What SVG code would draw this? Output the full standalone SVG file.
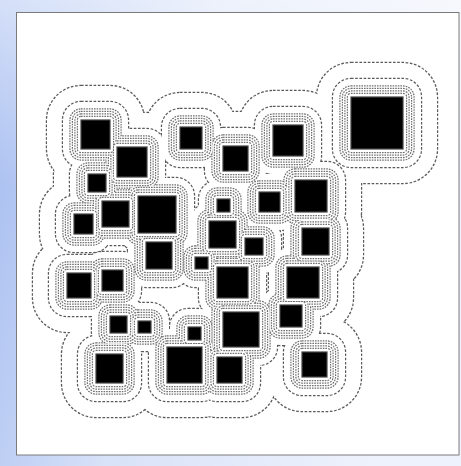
<svg xmlns="http://www.w3.org/2000/svg" xmlns:xlink="http://www.w3.org/1999/xlink" width="461" height="466" viewBox="0 0 461 466">
<style>
.bgp { fill: #ffffff; stroke: #7a7a7a; stroke-width: 1; }
.lo { fill: none; stroke: #5a5a5a; stroke-width: 2.4; stroke-dasharray: 2.6 1.6; }
.ld { fill: none; stroke: #707070; stroke-width: 2.4; stroke-dasharray: 1.6 1; }
.cv { fill: #ffffff; stroke: none; }
.sq { fill: #000000; stroke: #444444; stroke-width: 1.2; }
</style>
<defs>
<linearGradient id="bgL" x1="0" y1="0" x2="1" y2="0.25">
<stop offset="0" stop-color="#a2baf0"/>
<stop offset="0.45" stop-color="#d8e2f8"/>
<stop offset="1" stop-color="#eef2fc"/>
</linearGradient>
<linearGradient id="bgV" x1="0" y1="0" x2="0" y2="1">
<stop offset="0" stop-color="#ffffff" stop-opacity="0.55"/>
<stop offset="0.4" stop-color="#ffffff" stop-opacity="0"/>
</linearGradient>
<g id="L34">
<rect x="47" y="86" width="97" height="97" rx="34"/>
<rect x="83" y="113" width="98" height="98" rx="34"/>
<rect x="54" y="140" width="86" height="86" rx="34"/>
<rect x="68" y="167" width="95" height="94" rx="34"/>
<rect x="40" y="180" width="87" height="88" rx="34"/>
<rect x="104" y="162" width="106" height="105" rx="34"/>
<rect x="112" y="208" width="94" height="95" rx="34"/>
<rect x="33" y="239" width="92" height="93" rx="34"/>
<rect x="68" y="236" width="89" height="89" rx="34"/>
<rect x="76" y="282" width="85" height="85" rx="34"/>
<rect x="104" y="287" width="81" height="80" rx="34"/>
<rect x="62" y="320" width="95" height="97" rx="34"/>
<rect x="133" y="313" width="103" height="104" rx="34"/>
<rect x="154" y="293" width="81" height="81" rx="34"/>
<rect x="183" y="323" width="93" height="94" rx="34"/>
<rect x="189" y="278" width="104" height="103" rx="34"/>
<rect x="183" y="233" width="99" height="99" rx="34"/>
<rect x="161" y="223" width="81" height="80" rx="34"/>
<rect x="175" y="187" width="95" height="95" rx="34"/>
<rect x="183" y="165" width="81" height="81" rx="34"/>
<rect x="211" y="204" width="86" height="85" rx="34"/>
<rect x="146" y="93" width="90" height="90" rx="34"/>
<rect x="189" y="112" width="93" height="93" rx="34"/>
<rect x="239" y="91" width="98" height="99" rx="34"/>
<rect x="317" y="63" width="120" height="120" rx="34"/>
<rect x="225" y="158" width="89" height="88" rx="34"/>
<rect x="261" y="146" width="100" height="100" rx="34"/>
<rect x="268" y="194" width="95" height="95" rx="34"/>
<rect x="253" y="233" width="100" height="99" rx="34"/>
<rect x="246" y="271" width="90" height="90" rx="34"/>
<rect x="268" y="318" width="93" height="93" rx="34"/>
</g>
<g id="L18">
<rect x="63" y="102" width="65" height="65" rx="18"/>
<rect x="99" y="129" width="66" height="66" rx="18"/>
<rect x="70" y="156" width="54" height="54" rx="18"/>
<rect x="84" y="183" width="63" height="62" rx="18"/>
<rect x="56" y="196" width="55" height="56" rx="18"/>
<rect x="120" y="178" width="74" height="73" rx="18"/>
<rect x="128" y="224" width="62" height="63" rx="18"/>
<rect x="49" y="255" width="60" height="61" rx="18"/>
<rect x="84" y="252" width="57" height="57" rx="18"/>
<rect x="92" y="298" width="53" height="53" rx="18"/>
<rect x="120" y="303" width="49" height="48" rx="18"/>
<rect x="78" y="336" width="63" height="65" rx="18"/>
<rect x="149" y="329" width="71" height="72" rx="18"/>
<rect x="170" y="309" width="49" height="49" rx="18"/>
<rect x="199" y="339" width="61" height="62" rx="18"/>
<rect x="205" y="294" width="72" height="71" rx="18"/>
<rect x="199" y="249" width="67" height="67" rx="18"/>
<rect x="177" y="239" width="49" height="48" rx="18"/>
<rect x="191" y="203" width="63" height="63" rx="18"/>
<rect x="199" y="181" width="49" height="49" rx="18"/>
<rect x="227" y="220" width="54" height="53" rx="18"/>
<rect x="162" y="109" width="58" height="58" rx="18"/>
<rect x="205" y="128" width="61" height="61" rx="18"/>
<rect x="255" y="107" width="66" height="67" rx="18"/>
<rect x="333" y="79" width="88" height="88" rx="18"/>
<rect x="241" y="174" width="57" height="56" rx="18"/>
<rect x="277" y="162" width="68" height="68" rx="18"/>
<rect x="284" y="210" width="63" height="63" rx="18"/>
<rect x="269" y="249" width="68" height="67" rx="18"/>
<rect x="262" y="287" width="58" height="58" rx="18"/>
<rect x="284" y="334" width="61" height="61" rx="18"/>
</g>
<g id="L10">
<rect x="70.5" y="109.5" width="50" height="50" rx="10.5"/>
<rect x="106.5" y="136.5" width="51" height="51" rx="10.5"/>
<rect x="77.5" y="163.5" width="39" height="39" rx="10.5"/>
<rect x="91.5" y="190.5" width="48" height="47" rx="10.5"/>
<rect x="63.5" y="203.5" width="40" height="41" rx="10.5"/>
<rect x="127.5" y="185.5" width="59" height="58" rx="10.5"/>
<rect x="135.5" y="231.5" width="47" height="48" rx="10.5"/>
<rect x="56.5" y="262.5" width="45" height="46" rx="10.5"/>
<rect x="91.5" y="259.5" width="42" height="42" rx="10.5"/>
<rect x="99.5" y="305.5" width="38" height="38" rx="10.5"/>
<rect x="127.5" y="310.5" width="34" height="33" rx="10.5"/>
<rect x="85.5" y="343.5" width="48" height="50" rx="10.5"/>
<rect x="156.5" y="336.5" width="56" height="57" rx="10.5"/>
<rect x="177.5" y="316.5" width="34" height="34" rx="10.5"/>
<rect x="206.5" y="346.5" width="46" height="47" rx="10.5"/>
<rect x="212.5" y="301.5" width="57" height="56" rx="10.5"/>
<rect x="206.5" y="256.5" width="52" height="52" rx="10.5"/>
<rect x="184.5" y="246.5" width="34" height="33" rx="10.5"/>
<rect x="198.5" y="210.5" width="48" height="48" rx="10.5"/>
<rect x="206.5" y="188.5" width="34" height="34" rx="10.5"/>
<rect x="234.5" y="227.5" width="39" height="38" rx="10.5"/>
<rect x="169.5" y="116.5" width="43" height="43" rx="10.5"/>
<rect x="212.5" y="135.5" width="46" height="46" rx="10.5"/>
<rect x="262.5" y="114.5" width="51" height="52" rx="10.5"/>
<rect x="340.5" y="86.5" width="73" height="73" rx="10.5"/>
<rect x="248.5" y="181.5" width="42" height="41" rx="10.5"/>
<rect x="284.5" y="169.5" width="53" height="53" rx="10.5"/>
<rect x="291.5" y="217.5" width="48" height="48" rx="10.5"/>
<rect x="276.5" y="256.5" width="53" height="52" rx="10.5"/>
<rect x="269.5" y="294.5" width="43" height="43" rx="10.5"/>
<rect x="291.5" y="341.5" width="46" height="46" rx="10.5"/>
</g>
<g id="L8">
<rect x="73" y="112" width="45" height="45" rx="8"/>
<rect x="109" y="139" width="46" height="46" rx="8"/>
<rect x="80" y="166" width="34" height="34" rx="8"/>
<rect x="94" y="193" width="43" height="42" rx="8"/>
<rect x="66" y="206" width="35" height="36" rx="8"/>
<rect x="130" y="188" width="54" height="53" rx="8"/>
<rect x="138" y="234" width="42" height="43" rx="8"/>
<rect x="59" y="265" width="40" height="41" rx="8"/>
<rect x="94" y="262" width="37" height="37" rx="8"/>
<rect x="102" y="308" width="33" height="33" rx="8"/>
<rect x="130" y="313" width="29" height="28" rx="8"/>
<rect x="88" y="346" width="43" height="45" rx="8"/>
<rect x="159" y="339" width="51" height="52" rx="8"/>
<rect x="180" y="319" width="29" height="29" rx="8"/>
<rect x="209" y="349" width="41" height="42" rx="8"/>
<rect x="215" y="304" width="52" height="51" rx="8"/>
<rect x="209" y="259" width="47" height="47" rx="8"/>
<rect x="187" y="249" width="29" height="28" rx="8"/>
<rect x="201" y="213" width="43" height="43" rx="8"/>
<rect x="209" y="191" width="29" height="29" rx="8"/>
<rect x="237" y="230" width="34" height="33" rx="8"/>
<rect x="172" y="119" width="38" height="38" rx="8"/>
<rect x="215" y="138" width="41" height="41" rx="8"/>
<rect x="265" y="117" width="46" height="47" rx="8"/>
<rect x="343" y="89" width="68" height="68" rx="8"/>
<rect x="251" y="184" width="37" height="36" rx="8"/>
<rect x="287" y="172" width="48" height="48" rx="8"/>
<rect x="294" y="220" width="43" height="43" rx="8"/>
<rect x="279" y="259" width="48" height="47" rx="8"/>
<rect x="272" y="297" width="38" height="38" rx="8"/>
<rect x="294" y="344" width="41" height="41" rx="8"/>
</g>
<g id="L5">
<rect x="75.5" y="114.5" width="40" height="40" rx="5.5"/>
<rect x="111.5" y="141.5" width="41" height="41" rx="5.5"/>
<rect x="82.5" y="168.5" width="29" height="29" rx="5.5"/>
<rect x="96.5" y="195.5" width="38" height="37" rx="5.5"/>
<rect x="68.5" y="208.5" width="30" height="31" rx="5.5"/>
<rect x="132.5" y="190.5" width="49" height="48" rx="5.5"/>
<rect x="140.5" y="236.5" width="37" height="38" rx="5.5"/>
<rect x="61.5" y="267.5" width="35" height="36" rx="5.5"/>
<rect x="96.5" y="264.5" width="32" height="32" rx="5.5"/>
<rect x="104.5" y="310.5" width="28" height="28" rx="5.5"/>
<rect x="132.5" y="315.5" width="24" height="23" rx="5.5"/>
<rect x="90.5" y="348.5" width="38" height="40" rx="5.5"/>
<rect x="161.5" y="341.5" width="46" height="47" rx="5.5"/>
<rect x="182.5" y="321.5" width="24" height="24" rx="5.5"/>
<rect x="211.5" y="351.5" width="36" height="37" rx="5.5"/>
<rect x="217.5" y="306.5" width="47" height="46" rx="5.5"/>
<rect x="211.5" y="261.5" width="42" height="42" rx="5.5"/>
<rect x="189.5" y="251.5" width="24" height="23" rx="5.5"/>
<rect x="203.5" y="215.5" width="38" height="38" rx="5.5"/>
<rect x="211.5" y="193.5" width="24" height="24" rx="5.5"/>
<rect x="239.5" y="232.5" width="29" height="28" rx="5.5"/>
<rect x="174.5" y="121.5" width="33" height="33" rx="5.5"/>
<rect x="217.5" y="140.5" width="36" height="36" rx="5.5"/>
<rect x="267.5" y="119.5" width="41" height="42" rx="5.5"/>
<rect x="345.5" y="91.5" width="63" height="63" rx="5.5"/>
<rect x="253.5" y="186.5" width="32" height="31" rx="5.5"/>
<rect x="289.5" y="174.5" width="43" height="43" rx="5.5"/>
<rect x="296.5" y="222.5" width="38" height="38" rx="5.5"/>
<rect x="281.5" y="261.5" width="43" height="42" rx="5.5"/>
<rect x="274.5" y="299.5" width="33" height="33" rx="5.5"/>
<rect x="296.5" y="346.5" width="36" height="36" rx="5.5"/>
</g>
<g id="L3">
<rect x="78" y="117" width="35" height="35" rx="3"/>
<rect x="114" y="144" width="36" height="36" rx="3"/>
<rect x="85" y="171" width="24" height="24" rx="3"/>
<rect x="99" y="198" width="33" height="32" rx="3"/>
<rect x="71" y="211" width="25" height="26" rx="3"/>
<rect x="135" y="193" width="44" height="43" rx="3"/>
<rect x="143" y="239" width="32" height="33" rx="3"/>
<rect x="64" y="270" width="30" height="31" rx="3"/>
<rect x="99" y="267" width="27" height="27" rx="3"/>
<rect x="107" y="313" width="23" height="23" rx="3"/>
<rect x="135" y="318" width="19" height="18" rx="3"/>
<rect x="93" y="351" width="33" height="35" rx="3"/>
<rect x="164" y="344" width="41" height="42" rx="3"/>
<rect x="185" y="324" width="19" height="19" rx="3"/>
<rect x="214" y="354" width="31" height="32" rx="3"/>
<rect x="220" y="309" width="42" height="41" rx="3"/>
<rect x="214" y="264" width="37" height="37" rx="3"/>
<rect x="192" y="254" width="19" height="18" rx="3"/>
<rect x="206" y="218" width="33" height="33" rx="3"/>
<rect x="214" y="196" width="19" height="19" rx="3"/>
<rect x="242" y="235" width="24" height="23" rx="3"/>
<rect x="177" y="124" width="28" height="28" rx="3"/>
<rect x="220" y="143" width="31" height="31" rx="3"/>
<rect x="270" y="122" width="36" height="37" rx="3"/>
<rect x="348" y="94" width="58" height="58" rx="3"/>
<rect x="256" y="189" width="27" height="26" rx="3"/>
<rect x="292" y="177" width="38" height="38" rx="3"/>
<rect x="299" y="225" width="33" height="33" rx="3"/>
<rect x="284" y="264" width="38" height="37" rx="3"/>
<rect x="277" y="302" width="28" height="28" rx="3"/>
<rect x="299" y="349" width="31" height="31" rx="3"/>
</g>
</defs>
<g id="background">
<rect x="0" y="0" width="461" height="466" fill="url(#bgL)"/>
<rect x="0" y="0" width="461" height="466" fill="url(#bgV)"/>
<rect class="bgp" x="16.5" y="12.5" width="442.5" height="442.5"/>
</g>
<g id="contours">
<use xlink:href="#L34" class="lo"/>
<use xlink:href="#L34" class="cv"/>
<use xlink:href="#L18" class="lo"/>
<use xlink:href="#L18" class="cv"/>
<use xlink:href="#L10" class="ld"/>
<use xlink:href="#L10" class="cv"/>
<use xlink:href="#L8" class="ld"/>
<use xlink:href="#L8" class="cv"/>
<use xlink:href="#L5" class="ld"/>
<use xlink:href="#L5" class="cv"/>
<use xlink:href="#L3" class="ld"/>
<use xlink:href="#L3" class="cv"/>
</g>
<g id="squares">
<rect class="sq" x="81" y="120" width="29" height="29"/>
<rect class="sq" x="117" y="147" width="30" height="30"/>
<rect class="sq" x="88" y="174" width="18" height="18"/>
<rect class="sq" x="102" y="201" width="27" height="26"/>
<rect class="sq" x="74" y="214" width="19" height="20"/>
<rect class="sq" x="138" y="196" width="38" height="37"/>
<rect class="sq" x="146" y="242" width="26" height="27"/>
<rect class="sq" x="67" y="273" width="24" height="25"/>
<rect class="sq" x="102" y="270" width="21" height="21"/>
<rect class="sq" x="110" y="316" width="17" height="17"/>
<rect class="sq" x="138" y="321" width="13" height="12"/>
<rect class="sq" x="96" y="354" width="27" height="29"/>
<rect class="sq" x="167" y="347" width="35" height="36"/>
<rect class="sq" x="188" y="327" width="13" height="13"/>
<rect class="sq" x="217" y="357" width="25" height="26"/>
<rect class="sq" x="223" y="312" width="36" height="35"/>
<rect class="sq" x="217" y="267" width="31" height="31"/>
<rect class="sq" x="195" y="257" width="13" height="12"/>
<rect class="sq" x="209" y="221" width="27" height="27"/>
<rect class="sq" x="217" y="199" width="13" height="13"/>
<rect class="sq" x="245" y="238" width="18" height="17"/>
<rect class="sq" x="180" y="127" width="22" height="22"/>
<rect class="sq" x="223" y="146" width="25" height="25"/>
<rect class="sq" x="273" y="125" width="30" height="31"/>
<rect class="sq" x="351" y="97" width="52" height="52"/>
<rect class="sq" x="259" y="192" width="21" height="20"/>
<rect class="sq" x="295" y="180" width="32" height="32"/>
<rect class="sq" x="302" y="228" width="27" height="27"/>
<rect class="sq" x="287" y="267" width="32" height="31"/>
<rect class="sq" x="280" y="305" width="22" height="22"/>
<rect class="sq" x="302" y="352" width="25" height="25"/>
</g>
</svg>
